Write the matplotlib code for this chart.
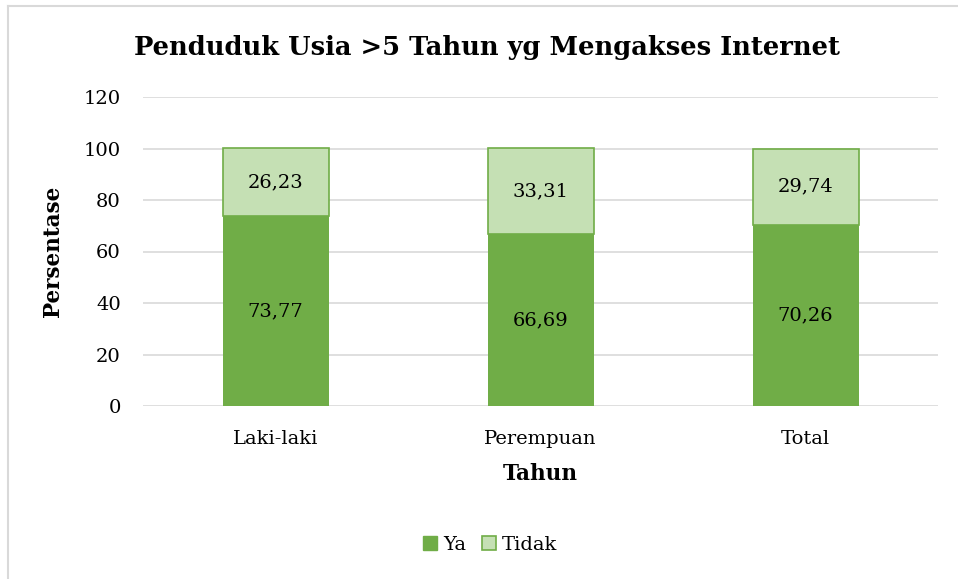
import matplotlib
matplotlib.use("Agg")
import matplotlib.pyplot as plt
from matplotlib.patches import Rectangle
from matplotlib.lines import Line2D

categories = ["Laki-laki", "Perempuan", "Total"]
ya = [73.77, 66.69, 70.26]
tidak = [26.23, 33.31, 29.74]
yticks = [0, 20, 40, 60, 80, 100, 120]

plt.rcParams["font.family"] = ["DejaVu Serif"]

W, H = 958, 579
fig = plt.figure(figsize=(W / 100, H / 100), dpi=100)
fig.patch.set_facecolor("white")

# chart-area frame (top and left edges)
frame = "#D9D9D9"
fig.lines.append(Line2D([7.5 / W, 1.0], [1 - 5.5 / H, 1 - 5.5 / H],
                        transform=fig.transFigure, color=frame, linewidth=1.5))
fig.lines.append(Line2D([7.5 / W, 7.5 / W], [0, 1 - 5.5 / H],
                        transform=fig.transFigure, color=frame, linewidth=1.5))

ax = fig.add_axes([143 / W, 1 - 406 / H, (938 - 143) / W, (406 - 97) / H])
x = list(range(len(categories)))
green = "#70AD47"
light = "#C5E0B4"

ax.bar(x, ya, width=0.4, color=green, zorder=3)
ax.bar(x, tidak, bottom=ya, width=0.4, color=light, edgecolor=green,
       linewidth=1.2, zorder=3)

fmt = lambda v: f"{v:.2f}".replace(".", ",")
for i in x:
    ax.text(i, ya[i] / 2, fmt(ya[i]), ha="center", va="center", fontsize=14, zorder=4)
    ax.text(i, ya[i] + tidak[i] / 2, fmt(tidak[i]), ha="center", va="center",
            fontsize=14, zorder=4)

ax.set_xlim(-0.5, 2.5)
ax.set_ylim(0, 120)
ax.set_yticks(yticks)
ax.set_xticks(x)
ax.set_xticklabels(categories)
ax.tick_params(axis="both", length=0, labelsize=14)
ax.tick_params(axis="y", pad=16)
ax.tick_params(axis="x", pad=17)
ax.grid(axis="y", color="#D9D9D9", linewidth=1.2, zorder=0)
for s in ax.spines.values():
    s.set_visible(False)

ax.set_ylabel("Persentase", fontsize=15.5, fontweight="bold", labelpad=14)
ax.set_xlabel("Tahun", fontsize=15.5, fontweight="bold", labelpad=11)

fig.text(487 / W, 1 - 47 / H, "Penduduk Usia >5 Tahun yg Mengakses Internet",
         ha="center", va="center", fontsize=18.5, fontweight="bold")

handles = [Rectangle((0, 0), 1, 1, facecolor=green, edgecolor=green),
           Rectangle((0, 0), 1, 1, facecolor=light, edgecolor=green, linewidth=1.2)]
fig.legend(handles, ["Ya", "Tidak"], loc="center", bbox_to_anchor=(490 / W, 1 - 545 / H),
           ncol=2, frameon=False, fontsize=14, handlelength=0.75, handleheight=0.75,
           handletextpad=0.3, columnspacing=0.8)

fig.savefig("out.png", dpi=100)
